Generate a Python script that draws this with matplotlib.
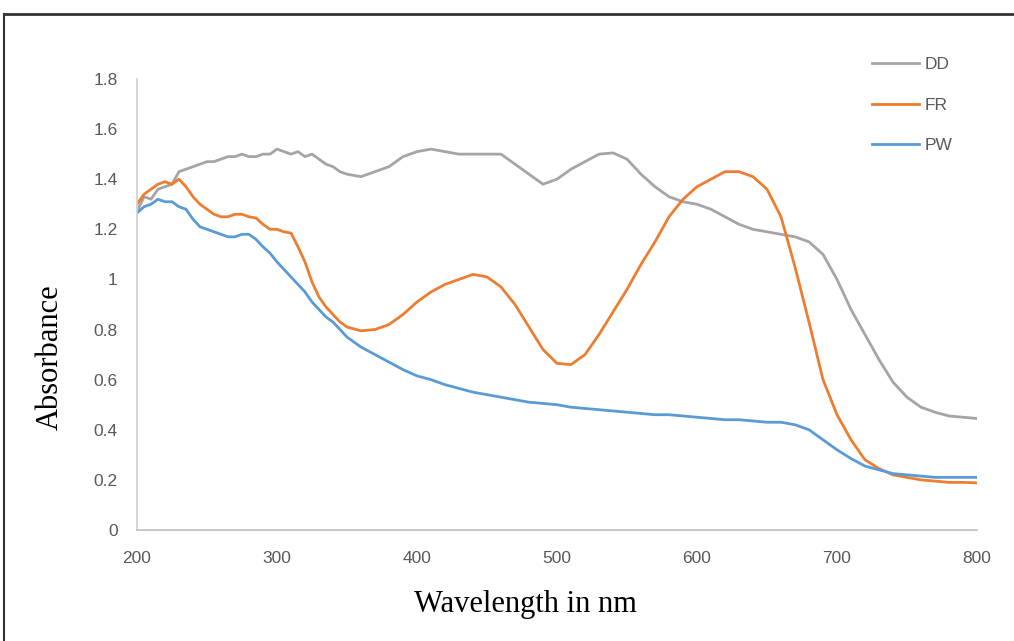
import matplotlib.pyplot as plt
from matplotlib.lines import Line2D

# Wavelength grid (nm): 5 nm steps up to 350, then 10 nm steps
wavelength = [200, 205, 210, 215, 220, 225, 230, 235, 240, 245, 250, 255, 260, 265, 270, 275,
              280, 285, 290, 295, 300, 305, 310, 315, 320, 325, 330, 335, 340, 345, 350,
              360, 370, 380, 390, 400, 410, 420, 430, 440, 450, 460, 470, 480, 490, 500,
              510, 520, 530, 540, 550, 560, 570, 580, 590, 600, 610, 620, 630, 640, 650,
              660, 670, 680, 690, 700, 710, 720, 730, 740, 750, 760, 770, 780, 790, 800]

dd = [1.27, 1.33, 1.32, 1.36, 1.37, 1.38, 1.43, 1.44, 1.45, 1.46, 1.47, 1.47, 1.48, 1.49, 1.49, 1.50,
      1.49, 1.49, 1.50, 1.50, 1.52, 1.51, 1.50, 1.51, 1.49, 1.50, 1.48, 1.46, 1.45, 1.43, 1.42,
      1.41, 1.43, 1.45, 1.49, 1.51, 1.52, 1.51, 1.50, 1.50, 1.50, 1.50, 1.46, 1.42, 1.38, 1.40,
      1.44, 1.47, 1.50, 1.505, 1.48, 1.42, 1.37, 1.33, 1.31, 1.30, 1.28, 1.25, 1.22, 1.20, 1.19,
      1.18, 1.17, 1.15, 1.10, 1.00, 0.88, 0.78, 0.68, 0.59, 0.53, 0.49, 0.47, 0.455, 0.45, 0.445]

fr = [1.30, 1.34, 1.36, 1.38, 1.39, 1.38, 1.40, 1.37, 1.33, 1.30, 1.28, 1.26, 1.25, 1.25, 1.26, 1.26,
      1.25, 1.245, 1.22, 1.20, 1.20, 1.19, 1.185, 1.13, 1.07, 0.99, 0.93, 0.89, 0.86, 0.83, 0.81,
      0.795, 0.80, 0.82, 0.86, 0.91, 0.95, 0.98, 1.00, 1.02, 1.01, 0.97, 0.90, 0.81, 0.72, 0.665,
      0.66, 0.70, 0.78, 0.87, 0.96, 1.06, 1.15, 1.25, 1.32, 1.37, 1.40, 1.43, 1.43, 1.41, 1.36,
      1.25, 1.05, 0.83, 0.60, 0.46, 0.36, 0.28, 0.245, 0.22, 0.21, 0.20, 0.195, 0.19, 0.19, 0.188]

pw = [1.265, 1.29, 1.30, 1.32, 1.31, 1.31, 1.29, 1.28, 1.24, 1.21, 1.20, 1.19, 1.18, 1.17, 1.17, 1.18,
      1.18, 1.16, 1.13, 1.105, 1.07, 1.04, 1.01, 0.98, 0.95, 0.91, 0.88, 0.85, 0.83, 0.80, 0.77,
      0.73, 0.70, 0.67, 0.64, 0.615, 0.60, 0.58, 0.565, 0.55, 0.54, 0.53, 0.52, 0.51, 0.505, 0.50,
      0.49, 0.485, 0.48, 0.475, 0.47, 0.465, 0.46, 0.46, 0.455, 0.45, 0.445, 0.44, 0.44, 0.435, 0.43,
      0.43, 0.42, 0.40, 0.36, 0.32, 0.285, 0.255, 0.24, 0.225, 0.22, 0.215, 0.21, 0.21, 0.21, 0.21]

plt.rcParams['font.family'] = ['Liberation Sans', 'DejaVu Sans']

fig = plt.figure(figsize=(10.14, 6.41), dpi=100)
ax = fig.add_axes([0.1351, 0.1732, 0.8284, 0.7036])

ax.plot(wavelength, dd, color='#A5A5A5', lw=2.0, label='DD')
ax.plot(wavelength, fr, color='#ED7D31', lw=2.0, label='FR')
ax.plot(wavelength, pw, color='#5B9BD5', lw=2.0, label='PW')

ax.set_xlim(200, 800)
ax.set_ylim(0, 1.8)
ax.set_xticks([200, 300, 400, 500, 600, 700, 800])
ax.set_yticks([0, 0.2, 0.4, 0.6, 0.8, 1.0, 1.2, 1.4, 1.6, 1.8])
ax.set_yticklabels(['0', '0.2', '0.4', '0.6', '0.8', '1', '1.2', '1.4', '1.6', '1.8'])
ax.tick_params(length=0, labelsize=12.5, labelcolor='#595959')
ax.tick_params(axis='y', pad=14)
ax.tick_params(axis='x', pad=15)

for side in ['top', 'right']:
    ax.spines[side].set_visible(False)
ax.spines['left'].set_color('#D0D0D0')
ax.spines['bottom'].set_color('#BFBFBF')
ax.spines['left'].set_linewidth(1.2)
ax.spines['bottom'].set_linewidth(1.2)

ax.set_xlabel('Wavelength in nm', family='Liberation Serif', fontsize=22)
ax.set_ylabel('Absorbance', family='Liberation Serif', fontsize=22)
ax.xaxis.set_label_coords(0.462, -0.166)
ax.yaxis.set_label_coords(-0.1036, 0.384)
ax.xaxis.label.set_va('center')
ax.yaxis.label.set_va('center')

fig.legend(loc='upper left', bbox_to_anchor=(0.845, 0.935), frameon=False,
           fontsize=12.5, labelspacing=1.45, handlelength=2.7, handletextpad=0.3,
           labelcolor='#595959')

# outer frame (top and left edges)
fig.add_artist(Line2D([4 / 1014, 1.0], [1 - 14 / 641, 1 - 14 / 641], color='#333333', lw=2))
fig.add_artist(Line2D([4 / 1014, 4 / 1014], [0, 1 - 14 / 641], color='#333333', lw=1.5))

fig.savefig('out.png', dpi=100)
